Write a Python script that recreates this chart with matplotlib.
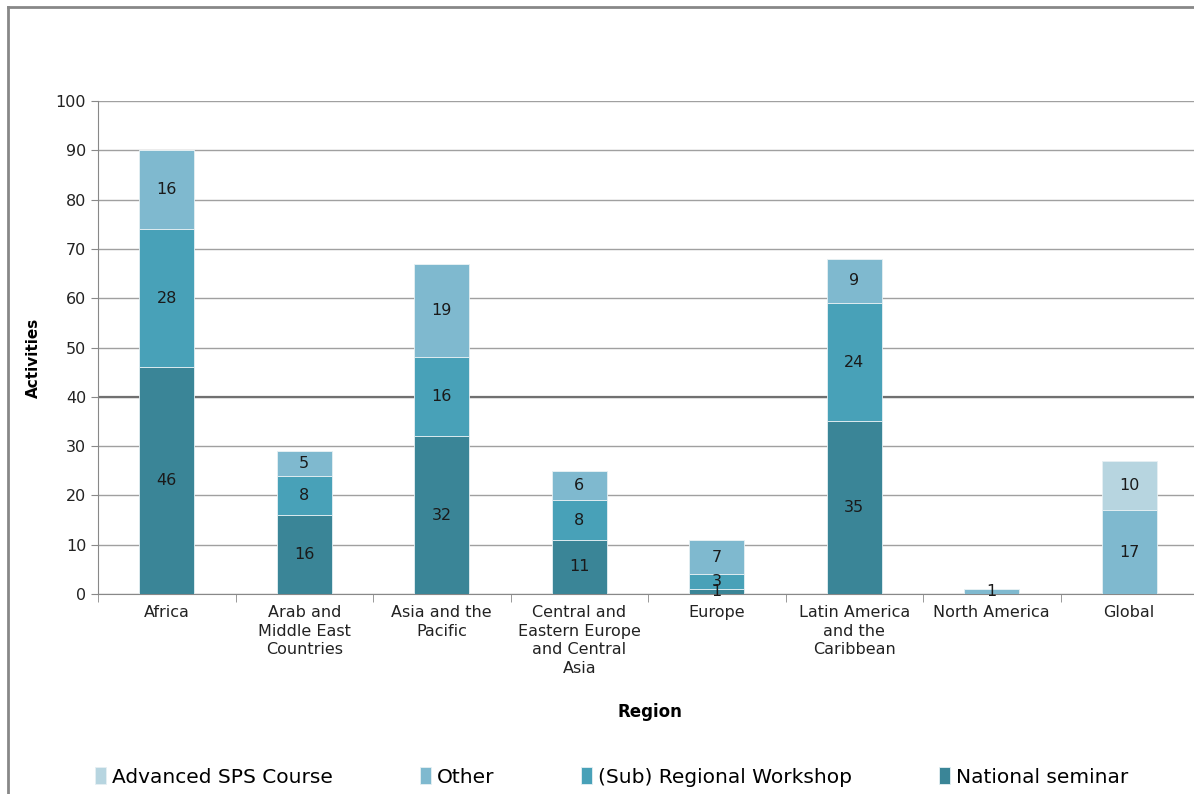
import numpy as np
import matplotlib as mpl
mpl.use('Agg')
import matplotlib.pyplot as plt
from matplotlib.lines import Line2D

regions = ['Africa', 'Arab and\nMiddle East\nCountries', 'Asia and the\nPacific',
           'Central and\nEastern Europe\nand Central\nAsia', 'Europe',
           'Latin America\nand the\nCaribbean', 'North America', 'Global']
national = [46, 16, 32, 11, 1, 35, 0, 0]
regional = [28, 8, 16, 8, 3, 24, 0, 0]
other = [16, 5, 19, 6, 7, 9, 1, 17]
advanced = [0, 0, 0, 0, 0, 0, 0, 10]

series = [('National seminar', national, '#3a8597'),
          ('(Sub) Regional Workshop', regional, '#48a1b8'),
          ('Other', other, '#7fb9cf'),
          ('Advanced SPS Course', advanced, '#b7d5e0')]

plt.rcParams['font.family'] = ['DejaVu Sans']

fig = plt.figure(figsize=(11.94, 7.94), dpi=100)
ax = fig.add_axes([98/1194, 200/794, 1100/1194, 493/794])

x = np.arange(len(regions))
bottom = np.zeros(len(regions))
handles = {}
for name, vals, col in series:
    vals = np.array(vals, dtype=float)
    bars = ax.bar(x, vals, 0.4, bottom=bottom, color=col, edgecolor='#e6f0f3',
                  linewidth=0.6, zorder=3)
    handles[name] = bars
    for xi, b, v in zip(x, bottom, vals):
        if v > 0:
            ax.text(xi, b + v / 2, '%d' % v, ha='center', va='center',
                    fontsize=11.5, color='#1a1a1a', zorder=4)
    bottom += vals

ax.set_xlim(-0.5, len(regions) - 0.5)
ax.set_ylim(0, 100)
ax.set_yticks(np.arange(0, 101, 10))
ax.tick_params(axis='y', labelsize=11.5, length=5, color='#888888', labelcolor='#222222')
ax.set_xticks(x)
ax.set_xticklabels(regions, fontsize=11.5, color='#222222', linespacing=1.3)
ax.tick_params(axis='x', which='major', length=0, pad=8)
ax.set_xticks(np.arange(-0.5, len(regions), 1.0), minor=True)
ax.tick_params(axis='x', which='minor', length=6, color='#888888')

ax.grid(axis='y', color='#a0a0a0', linewidth=1.0, zorder=0)
ax.axhline(40, color='#707070', linewidth=1.6, zorder=1)
ax.set_axisbelow(True)
for s in ['top', 'right']:
    ax.spines[s].set_visible(False)
for s in ['left', 'bottom']:
    ax.spines[s].set_color('#888888')

fig.text(650/1194, 1 - 712/794, 'Region', ha='center', va='center',
         fontsize=12, fontweight='bold')
fig.text(33/1194, 1 - 358/794, 'Activities', ha='center', va='center',
         rotation=90, fontsize=11, fontweight='bold')

order = ['Advanced SPS Course', 'Other', '(Sub) Regional Workshop', 'National seminar']
leg = fig.legend([handles[n] for n in order], order, loc='center left',
                 bbox_to_anchor=(95/1194, 1 - 777/794), ncol=4, frameon=False,
                 handlelength=0.55, handleheight=0.9, handletextpad=0.3,
                 columnspacing=4.3, borderaxespad=0, borderpad=0,
                 prop={'family': ['DejaVu Sans'], 'size': 14.5})

# outer frame (cropped chart area)
fig.add_artist(Line2D([8/1194, 8/1194], [0, 1 - 7/794], color='#888888', lw=2,
                      transform=fig.transFigure))
fig.add_artist(Line2D([8/1194, 1], [1 - 7/794, 1 - 7/794], color='#888888', lw=2,
                      transform=fig.transFigure))

fig.savefig('out.png', dpi=100)
